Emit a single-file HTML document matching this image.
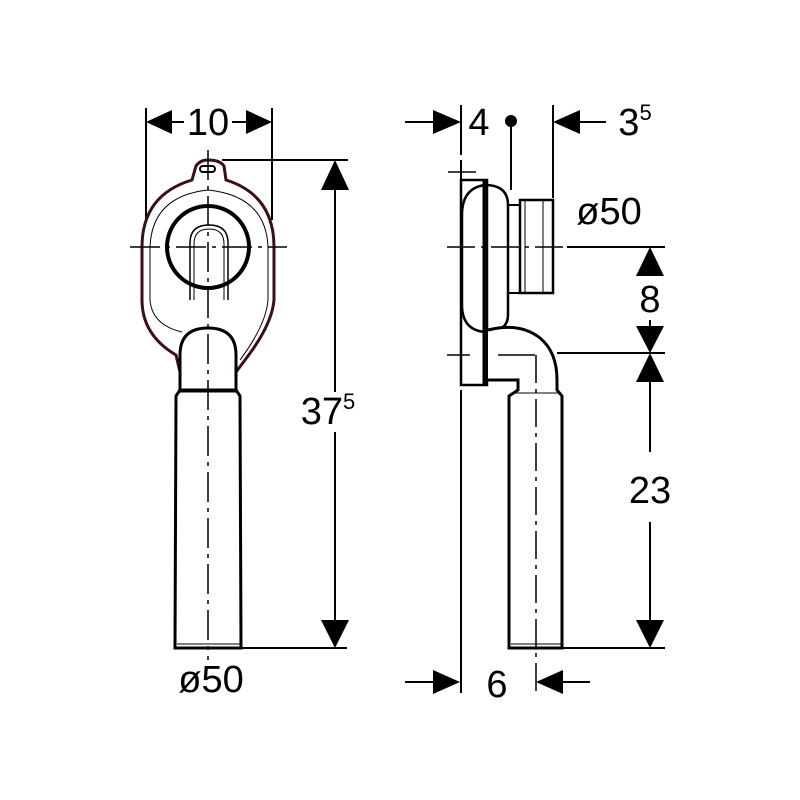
<!DOCTYPE html>
<html><head><style>html,body{margin:0;padding:0;background:#fff}svg{display:block}</style></head><body>
<svg width="800" height="800" viewBox="0 0 800 800" xmlns="http://www.w3.org/2000/svg" font-family="Liberation Sans, sans-serif">
<g stroke="#000" fill="none" stroke-width="2">
<line x1="146" y1="108" x2="146" y2="220"/>
<line x1="272" y1="108" x2="272" y2="220"/>
<line x1="170" y1="122" x2="184" y2="122"/>
<line x1="232" y1="122" x2="248" y2="122"/>
<path d="M192,180 L196,166 Q200,160 208,160 Q220,160 224,166 L226,180 Q274,195 274,247 L274,300 Q272,325 245,360 L236,372 L180,372 L176,355 Q142,335 142,300 L142,247 Q142,195 192,180 Z" stroke="#3a1010" stroke-width="3"/>
<path d="M150,247 Q152,196 208,190 Q266,196 268,247 L268,300 Q266,325 240,360" stroke-width="1"/>
<path d="M150,247 L150,300 Q152,325 182,332" stroke-width="1"/>
<rect x="200" y="166" width="15" height="6" rx="3"/>
<circle cx="208" cy="247" r="41" stroke-width="4"/>
<path d="M190,300 L190,243 Q190,225 209,225 Q228,225 228,243 L228,300" stroke-width="1.5"/>
<path d="M194,300 L194,244 Q194,229 209,229 Q224,229 224,244 L224,300" stroke-width="1"/>
<path d="M180,390 L180,355 Q180,328 208,328 Q236,328 236,355 L236,390" fill="#fff" stroke-width="3"/>
<path d="M176,396 L180,390 L236,390 L240,396 L241,648 L175,648 L176,396 Z" fill="#fff" stroke-width="3"/>
<line x1="177" y1="644" x2="240" y2="644" stroke-width="1"/>
<line x1="177" y1="392" x2="239" y2="392" stroke-width="1"/>
<line x1="130" y1="247" x2="287" y2="247" stroke-dasharray="30,6,4,6" stroke-width="1.5"/>
<line x1="208" y1="150" x2="208" y2="660" stroke-dasharray="30,6,4,6" stroke-width="1.5"/>
<line x1="222" y1="160" x2="348" y2="160"/>
<line x1="241" y1="648" x2="347" y2="648"/>
<line x1="335" y1="185" x2="335" y2="392"/>
<line x1="335" y1="432" x2="335" y2="625"/>
<line x1="461" y1="105" x2="461" y2="155"/>
<line x1="461" y1="390" x2="461" y2="693"/>
<line x1="405" y1="122" x2="438" y2="122"/>
<line x1="511" y1="122" x2="511" y2="190"/>
<line x1="553" y1="105" x2="553" y2="198"/>
<line x1="578" y1="122" x2="606" y2="122"/>
<line x1="461" y1="160" x2="461" y2="180"/>
<line x1="448" y1="172" x2="476" y2="172" stroke-width="1.5"/>
<rect x="461" y="180" width="26" height="205" stroke-width="2.5"/>
<line x1="485" y1="180" x2="485" y2="385" stroke-width="5"/>
<path d="M485,185 Q508,185 508,205 L508,315 Q508,332 485,332" stroke-width="2.5"/>
<path d="M485,185 Q462,188 462,215 L462,305 Q462,330 485,332" stroke-width="2.5"/>
<path d="M508,205 L520,205 M508,293 L520,293" stroke-width="2"/>
<path d="M520,200 L553,200 L553,293 L520,293 Z" stroke-width="2.5"/>
<line x1="525" y1="200" x2="525" y2="293" stroke-width="1"/>
<line x1="543" y1="200" x2="543" y2="293" stroke-width="1"/>
<path d="M488,330 Q520,322 540,338 Q557,352 557,380 L557,390 L562,396 L562,648 L509,648 L509,396 L518,390 L518,380 L488,380" fill="#fff" stroke-width="3"/>
<line x1="511" y1="644" x2="561" y2="644" stroke-width="1"/>
<line x1="512" y1="393" x2="558" y2="393" stroke-width="1"/>
<line x1="536" y1="355" x2="536" y2="693" stroke-dasharray="28,6,4,6" stroke-width="1.5"/>
<line x1="447" y1="247" x2="565" y2="247" stroke-dasharray="28,6,4,6" stroke-width="1.5"/>
<line x1="567" y1="247" x2="665" y2="247"/>
<line x1="447" y1="355" x2="470" y2="355" stroke-width="1.5"/>
<line x1="498" y1="355" x2="535" y2="355" stroke-width="1.5"/>
<line x1="557" y1="353" x2="665" y2="353"/>
<line x1="562" y1="648" x2="665" y2="648"/>
<line x1="650" y1="320" x2="650" y2="330"/>
<line x1="650" y1="380" x2="650" y2="452"/>
<line x1="650" y1="522" x2="650" y2="625"/>
<line x1="405" y1="682" x2="435" y2="682"/>
<line x1="560" y1="682" x2="590" y2="682"/>
</g>
<g fill="#000">
<polygon points="146,122 172,110 172,134"/>
<polygon points="272,122 246,110 246,134"/>
<polygon points="335,160 321,190 349,190"/>
<polygon points="335,648 321,620 349,620"/>
<polygon points="461,122 433,110 433,134"/>
<circle cx="511" cy="121" r="6"/>
<polygon points="553,122 580,110 580,134"/>
<polygon points="650,247 636,276 664,276"/>
<polygon points="650,353 636,326 664,326"/>
<polygon points="650,353 636,382 664,382"/>
<polygon points="650,648 636,620 664,620"/>
<polygon points="460,682 433,670 433,694"/>
<polygon points="536,682 563,670 563,694"/>
</g>
<g font-size="38" fill="#000" text-anchor="middle">
<text x="208" y="135">10</text>
<text x="328" y="424">37<tspan font-size="22" dy="-15">5</tspan></text>
<text x="211" y="692">ø50</text>
<text x="479" y="135">4</text>
<text x="635" y="135">3<tspan font-size="22" dy="-15">5</tspan></text>
<text x="609" y="224">ø50</text>
<text x="650" y="312">8</text>
<text x="650" y="503">23</text>
<text x="497" y="697">6</text>
</g>
</svg>
</body></html>
